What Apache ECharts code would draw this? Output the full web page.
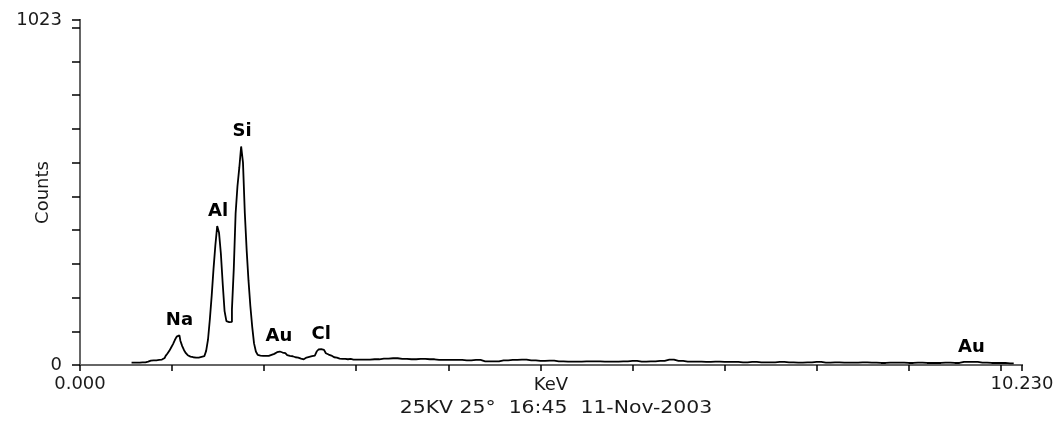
<!DOCTYPE html>
<html><head><meta charset="utf-8">
<script src="https://cdn.jsdelivr.net/npm/echarts@6/dist/echarts.min.js"></script>
<style>html,body{margin:0;padding:0;background:#fff}#c{width:1061px;height:430px}</style>
</head><body><div id="c"></div>
<script>
// Spectrum channels (keV) and counts
const energies = [
  0.56,0.58,0.60,0.62,0.64,0.66,0.68,0.70,0.72,0.74,0.76,0.78,
  0.80,0.82,0.84,0.86,0.88,0.90,0.92,0.94,0.96,0.98,1.00,1.02,
  1.04,1.06,1.08,1.10,1.12,1.14,1.16,1.18,1.20,1.22,1.24,1.26,
  1.28,1.30,1.32,1.34,1.36,1.38,1.40,1.42,1.44,1.46,1.48,1.50,
  1.52,1.54,1.56,1.58,1.60,1.62,1.64,1.66,1.68,1.70,1.72,1.74,
  1.76,1.78,1.80,1.82,1.84,1.86,1.88,1.90,1.92,1.94,1.96,1.98,
  2.00,2.02,2.04,2.06,2.08,2.10,2.12,2.14,2.16,2.18,2.20,2.22,
  2.24,2.26,2.28,2.30,2.32,2.34,2.36,2.38,2.40,2.42,2.44,2.46,
  2.48,2.50,2.52,2.54,2.56,2.58,2.60,2.62,2.64,2.66,2.68,2.70,
  2.72,2.74,2.76,2.78,2.80,2.82,2.84,2.86,2.88,2.90,2.92,2.94,
  2.96,2.98,3.00,
  3.1,3.2,3.3,3.4,3.5,3.6,3.7,3.8,3.9,4.0,
  4.1,4.2,4.3,4.4,4.5,4.6,4.7,4.8,4.9,5.0,
  5.1,5.2,5.3,5.4,5.5,5.6,5.7,5.8,5.9,6.0,
  6.1,6.2,6.3,6.4,6.5,6.6,6.7,6.8,6.9,7.0,
  7.1,7.2,7.3,7.4,7.5,7.6,7.7,7.8,7.9,8.0,
  8.1,8.2,8.3,8.4,8.5,8.6,8.7,8.8,8.9,9.0,
  9.1,9.2,9.3,9.4,9.5,9.6,9.7,9.8,9.9,10.0,
  10.1,10.14
];
const counts = [
  7,7,7,7,7,7,8,8,9,10,13,13,
  14,14,15,15,16,18,21,27,34,42,52,62,
  74,84,88,72,56,44,35,29,25,23,22,22,
  22,23,24,26,30,42,75,135,205,285,355,412,
  392,330,240,160,130,127,128,165,285,450,530,585,
  648,600,450,340,250,175,114,64,40,30,28,27,
  26,27,27,28,30,33,36,38,40,39,37,35,
  32,29,27,26,25,23,22,20,19,17,18,22,
  24,25,26,28,33,40,46,47,45,40,35,31,
  28,25,23,22,20,19,18,17,18,17,17,18,
  16,16,16,
  16,17,19,20,18,17,18,17,15,15,
  15,14,15,11,11,14,15,16,14,12,
  13,11,10,10,11,11,10,10,11,12,
  10,11,12,16,12,10,10,9,10,9,
  9,8,9,8,8,9,8,7,8,9,
  7,8,7,7,8,7,6,7,7,6,
  7,6,6,7,6,9,9,7,6,6,
  5,5
];
// Peak identifications
const peakNames = ['Na','Al','Si','Au','Cl','Au'];
const peakEnergies = [1.08,1.50,1.76,2.16,2.62,9.68];
const peakCounts = [88,412,648,40,47,9];
// Axis extents and texts
const xMin = 0, xMax = 10.23;
const yMin = 0, yMax = 1023;
const xTitle = 'KeV';
const yTitle = 'Counts';
const footer = '25KV 25°  16:45  11-Nov-2003';

const FONT = 'DejaVu Sans';
const TXT = '#1a1a1a';
const chart = echarts.init(document.getElementById('c'), null, {renderer:'canvas'});
const lineData = energies.map((e, i) => [e, counts[i]]);
const peakData = peakNames.map((n, i) => ({name: n, value: [peakEnergies[i], peakCounts[i]]}));

chart.setOption({
  animation: false,
  backgroundColor: '#fff',
  graphic: [{
    type: 'text', x: 556, y: 409, scaleX: 1.2, scaleY: 1, silent: true,
    style: {
      text: footer, x: 0, y: 0, align: 'center', verticalAlign: 'middle',
      fontFamily: FONT, fontSize: 17, fill: TXT
    }
  }],
  grid: {left: 80, right: 39, top: 20, bottom: 65, containLabel: false, outerBoundsMode: 'none'},
  xAxis: [{
    type: 'value', min: xMin, max: xMax, interval: 1, position: 'bottom',
    name: xTitle, nameLocation: 'middle', nameGap: 11, nameMoveOverlap: false,
    nameTextStyle: {fontFamily: FONT, fontSize: 18, color: TXT, verticalAlign: 'top'},
    axisLine: {show: true, lineStyle: {color: '#000', width: 2}},
    axisTick: {show: true, length: 6, lineStyle: {color: '#000', width: 1.5}},
    splitLine: {show: false},
    axisLabel: {
      showMinLabel: true, showMaxLabel: true, margin: 10,
      fontFamily: FONT, fontSize: 18, color: TXT,
      formatter: v => (v === xMin || v === xMax) ? v.toFixed(3) : ''
    }
  }, {
    type: 'value', min: xMin, max: xMax, position: 'top',
    axisLine: {show: true, lineStyle: {color: '#666', width: 2}},
    axisTick: {show: false}, axisLabel: {show: false}, splitLine: {show: false}
  }],
  yAxis: [{
    type: 'value', min: yMin, max: yMax, interval: 100, position: 'left',
    name: yTitle, nameLocation: 'middle', nameGap: 28, nameRotate: 90, nameMoveOverlap: false,
    nameTextStyle: {fontFamily: FONT, fontSize: 18, color: TXT},
    axisLine: {show: true, lineStyle: {color: '#000', width: 2}},
    axisTick: {show: true, length: 8, lineStyle: {color: '#000', width: 1.5}},
    splitLine: {show: false},
    axisLabel: {
      showMinLabel: true, showMaxLabel: true, margin: 18,
      fontFamily: FONT, fontSize: 18, color: TXT,
      formatter: v => (v === yMin || v === yMax) ? String(v) : ''
    }
  }, {
    type: 'value', min: yMin, max: yMax, position: 'right',
    axisLine: {show: true, lineStyle: {color: '#666', width: 2}},
    axisTick: {show: false}, axisLabel: {show: false}, splitLine: {show: false}
  }],
  series: [{
    type: 'line', data: lineData, step: 'middle', showSymbol: false, symbol: 'none',
    lineStyle: {color: '#000', width: 1.8}, z: 3
  }, {
    type: 'scatter', data: peakData, symbolSize: 0.1,
    itemStyle: {color: 'rgba(0,0,0,0)'},
    label: {
      show: true, position: 'top', distance: 6, formatter: p => p.name,
      fontFamily: FONT, fontWeight: 'bold', fontSize: 18, color: '#000',
      textBorderWidth: 0, opacity: 1
    },
    emphasis: {disabled: true}, z: 4
  }]
});
</script>
</body></html>
